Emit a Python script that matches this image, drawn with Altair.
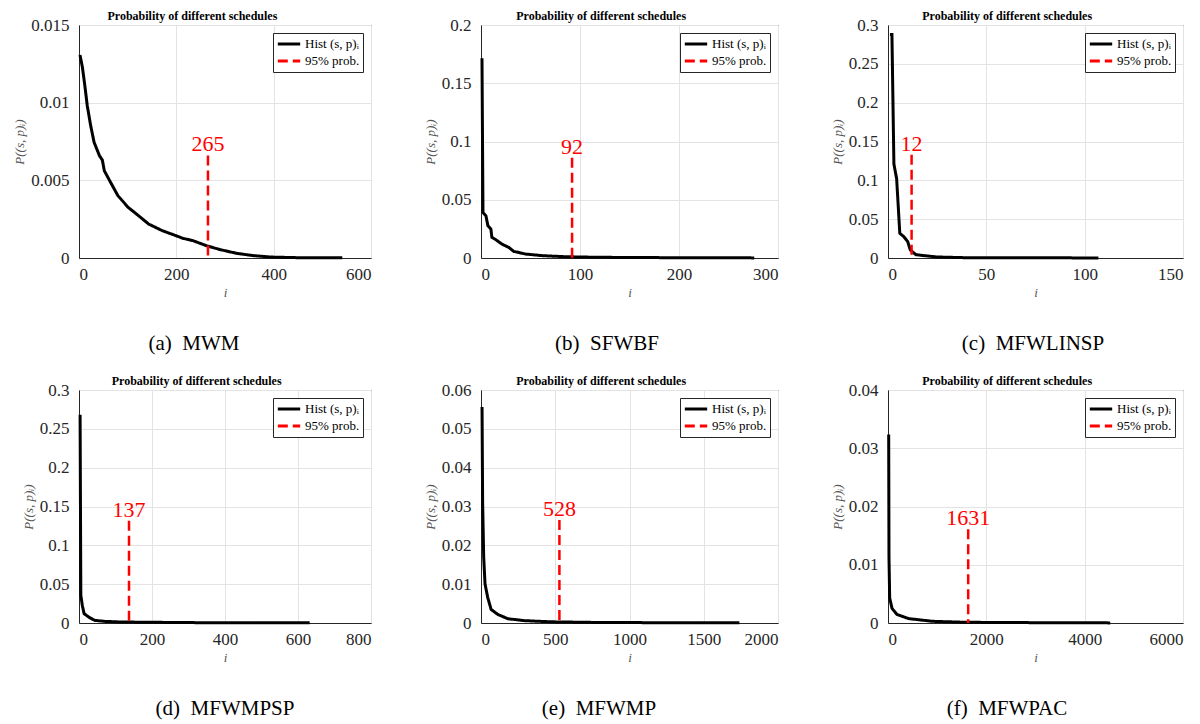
import altair as alt
import pandas as pd

FONT = "Liberation Serif, Times New Roman, serif"
HIST = "Hist (s, p)ᵢ"
CUT = "95% prob."

NB = "\u00a0"
captions = ["(a)" + NB * 2 + "MWM", "(b)" + NB * 2 + "SFWBF", "(c)" + NB * 2 + "MFWLINSP",
            "(d)" + NB * 2 + "MFWMPSP", "(e)" + NB * 2 + "MFWMP", "(f)" + NB * 2 + "MFWPAC"]

# sorted schedule probabilities
xs_a = [2, 7, 12, 17, 24, 31, 42, 48, 52, 63, 80, 101, 122, 143, 171, 199, 213, 234, 262, 290, 324, 359, 394, 450, 541]
ys_a = [0.01307, 0.01228, 0.0111, 0.0098, 0.00852, 0.00745, 0.00659, 0.0063, 0.00562, 0.00498, 0.00401, 0.00326,
        0.00273, 0.00219, 0.00176, 0.00144, 0.00127, 0.00112, 0.00079, 0.00054, 0.0003, 0.00015, 0.00006, 0.00002, 0.00001]

xs_b = [1, 2, 5, 7, 10, 11, 15, 21, 28, 33, 45, 62, 85, 118, 185, 276]
ys_b = [0.1715, 0.039, 0.0362, 0.0276, 0.0248, 0.0177, 0.0157, 0.012, 0.0091, 0.0057, 0.0034, 0.002,
        0.0011, 0.0006, 0.0003, 0.0001]

xs_c = [1, 2, 3, 4.4, 6, 8, 10, 11.3, 12.6, 14.3, 18.5, 25, 39, 107]
ys_c = [0.2877, 0.2877, 0.121, 0.102, 0.0318, 0.0276, 0.0212, 0.0106, 0.0076, 0.0042, 0.003, 0.0013, 0.0004, 0.0001]

xs_d = [3, 5, 9, 14, 29, 43, 70, 114, 204, 338, 632]
ys_d = [0.268, 0.0357, 0.0228, 0.012, 0.0069, 0.0034, 0.0021, 0.0013, 0.0009, 0.0004, 0.0002]

xs_e = [7, 11, 18, 27, 45, 68, 113, 181, 294, 475, 814, 1740]
ys_e = [0.0556, 0.031, 0.0171, 0.0101, 0.0066, 0.0035, 0.0022, 0.0011, 0.0006, 0.0003, 0.00012, 0.00004]

xs_f = [14, 20, 34, 82, 185, 424, 903, 1587, 2955, 4520]
ys_f = [0.03235, 0.0113, 0.0043, 0.0025, 0.00145, 0.00075, 0.00029, 0.00012, 0.00006, 0.00002]

xs = [xs_a, xs_b, xs_c, xs_d, xs_e, xs_f]
ys = [ys_a, ys_b, ys_c, ys_d, ys_e, ys_f]

cut_i = [265, 92, 12, 137, 528, 1631]
cut_top = [0.0066, 0.086, 0.133, 0.1315, 0.0265, 0.0161]

x_max = [600, 300, 150, 800, 2000, 6000]
y_max = [0.015, 0.2, 0.3, 0.3, 0.06, 0.04]
x_ticks = [[0, 200, 400, 600], [0, 100, 200, 300], [0, 50, 100, 150],
           [0, 200, 400, 600, 800], [0, 500, 1000, 1500, 2000], [0, 2000, 4000, 6000]]
y_ticks = [[0, 0.005, 0.01, 0.015], [0, 0.05, 0.1, 0.15, 0.2], [0, 0.05, 0.1, 0.15, 0.2, 0.25, 0.3],
           [0, 0.05, 0.1, 0.15, 0.2, 0.25, 0.3], [0, 0.01, 0.02, 0.03, 0.04, 0.05, 0.06],
           [0, 0.01, 0.02, 0.03, 0.04]]

COL_W = [292, 297, 295]
H = 233
CAP_DX = [115, 126, 145, 146, 118, 119]


def panel(k):
    df = pd.DataFrame({"i": xs[k], "p": ys[k], "series": HIST})
    cut = pd.DataFrame({"i": [cut_i[k]], "p": [cut_top[k]], "series": [CUT], "label": [str(cut_i[k])]})
    cap = pd.DataFrame({"cap": [captions[k]]})

    xenc = alt.X("i:Q", scale=alt.Scale(domain=[0, x_max[k]], nice=False),
                 axis=alt.Axis(values=x_ticks[k], format="d", title="i",
                               labelFont=FONT, labelFontSize=17, titleFont=FONT,
                               labelPadding=8, titlePadding=4))
    yenc = alt.Y("p:Q", scale=alt.Scale(domain=[0, y_max[k]], nice=False),
                 axis=alt.Axis(values=y_ticks[k], format=".4~g", title="P((s, p)ᵢ)",
                               labelFont=FONT, labelFontSize=17, titleFont=FONT,
                               labelPadding=10, titlePadding=4))
    leg = alt.Legend(title=None, orient="top-right", offset=8, symbolType="stroke",
                     symbolSize=500, symbolStrokeWidth=3, labelFont=FONT, labelFontSize=13,
                     labelColor="black", strokeColor="#262626", fillColor="white",
                     padding=3, rowPadding=1, labelOffset=3, cornerRadius=0, clipHeight=16)
    color = alt.Color("series:N", scale=alt.Scale(domain=[HIST, CUT], range=["#000000", "#ff0000"]),
                      legend=leg)
    dash = alt.StrokeDash("series:N", scale=alt.Scale(domain=[HIST, CUT], range=[[1, 0], [10, 5]]),
                          legend=leg)

    line = alt.Chart(df).mark_line(strokeWidth=3).encode(x=xenc, y=yenc, color=color, strokeDash=dash)
    rule = alt.Chart(cut).mark_rule(strokeWidth=2.5).encode(
        x=xenc, y=yenc, y2=alt.datum(0), color=color, strokeDash=dash)
    txt = alt.Chart(cut).mark_text(font=FONT, fontSize=22, color="#ff0000",
                                   baseline="alphabetic", dy=-4).encode(x=xenc, y=yenc, text="label:N")
    capt = alt.Chart(cap).mark_text(font=FONT, fontSize=21, align="center", baseline="alphabetic",
                                    color="black").encode(
        x=alt.value(CAP_DX[k]), y=alt.value(H + 92), text="cap:N")
    return alt.layer(line, rule, txt, capt).properties(
        width=COL_W[k % 3], height=H,
        title=alt.TitleParams("Probability of different schedules", font=FONT, fontSize=12,
                              fontWeight="bold", color="black", anchor="middle",
                              frame="bounds", offset=-7))


chart = alt.concat(*[panel(k) for k in range(6)], columns=3,
                   spacing={"row": 132, "column": 110}, bounds="flush").resolve_scale(
    x="independent", y="independent", color="independent", strokeDash="independent"
).properties(
    padding={"left": 5, "top": 1, "right": 0, "bottom": 0}
).configure(font=FONT).configure_view(stroke="#262626", strokeWidth=1).configure_axis(
    labelFont=FONT, labelFontSize=17, labelColor="#262626",
    titleFont=FONT, titleFontSize=13, titleFontStyle="italic", titleFontWeight="normal",
    titleColor="#555555", gridColor="#e3e3e3", gridWidth=1, domainColor="#262626",
    ticks=False
).configure_legend(labelFont=FONT)

chart.save("out.html", embed_options={"renderer": "svg", "actions": False})
